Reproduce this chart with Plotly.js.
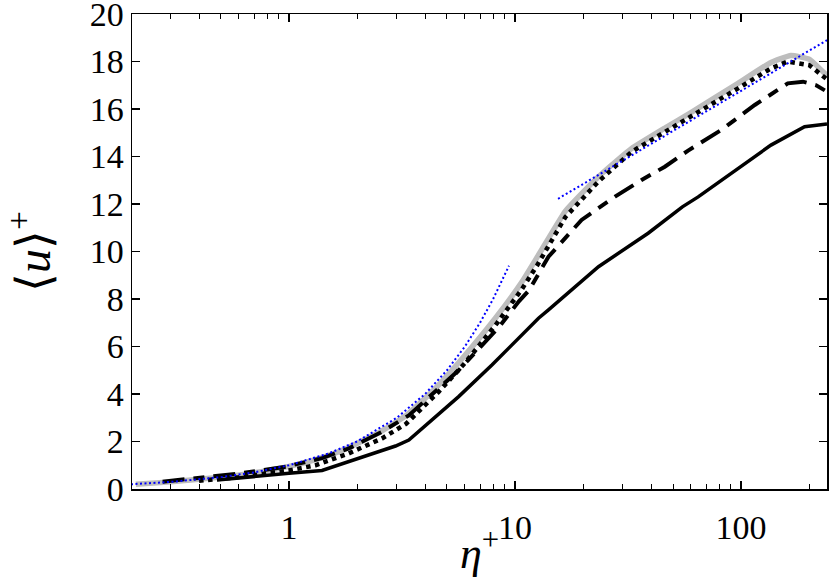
<!DOCTYPE html>
<html>
<head>
<meta charset="utf-8">
<script src="https://cdn.plot.ly/plotly-3.0.1.min.js"></script>
<style>
  html, body { margin: 0; padding: 0; background: white; }
  #chart { width: 830px; height: 578px; }
</style>
</head>
<body>
<div id="chart"></div>
<script>
// Mean velocity profiles <u>+ vs eta+ (log x), four cases plus two reference laws.

const grayX = [0.21, 0.3, 0.5, 0.7, 1, 1.4, 1.84, 2.58, 3.3, 4.37, 5.93, 8.2, 10.7, 12.7, 16.7, 20, 23.4, 28, 32.8, 46, 60, 97, 135, 166, 200, 240];
const grayY = [0.2, 0.3, 0.5, 0.68, 0.95, 1.32, 1.75, 2.45, 3.1, 4.17, 5.57, 7.2, 8.7, 9.85, 11.7, 12.5, 13.15, 13.8, 14.34, 15.2, 15.85, 17.08, 17.95, 18.25, 18.1, 17.4];

const dotX = [0.4, 0.6, 1, 1.31, 1.84, 2.58, 3.3, 4.6, 6.0, 8.2, 10.7, 12.5, 16.7, 23.4, 32.8, 46, 60, 97, 135, 161, 200, 240];
const dotY = [0.35, 0.5, 0.78, 1.0, 1.5, 2.13, 2.75, 4.1, 5.3, 6.9, 8.4, 9.4, 11.45, 12.95, 14.2, 15.05, 15.7, 16.87, 17.7, 18.0, 17.85, 17.25];

const dashX = [0.276, 0.4, 0.58, 0.97, 1.4, 1.84, 2.58, 3.39, 5.63, 8.46, 10.4, 11.5, 14.06, 19.7, 27.7, 36.3, 46, 58.3, 81.9, 115, 161, 188, 215, 240];
const dashY = [0.31, 0.45, 0.63, 0.94, 1.3, 1.71, 2.41, 3.1, 5.0, 6.8, 7.9, 8.35, 9.78, 11.33, 12.31, 13.01, 13.57, 14.25, 15.12, 16.17, 17.08, 17.15, 17.0, 16.73];

const solidX = [0.48, 0.67, 1, 1.4, 2.26, 2.96, 3.39, 4.3, 5.63, 7.9, 11.1, 12.7, 14.06, 23.4, 38.8, 55, 64.6, 88, 135.6, 191, 240];
const solidY = [0.38, 0.52, 0.66, 0.78, 1.43, 1.81, 2.06, 2.9, 3.89, 5.22, 6.6, 7.19, 7.54, 9.36, 10.77, 11.88, 12.3, 13.2, 14.48, 15.25, 15.37];

// u+ = y+ (viscous sublayer) and the log law, both
const linX = [0.2, 0.3, 0.5, 0.7, 1, 1.5, 2, 3, 4, 5, 6, 7, 8, 9.4];
const linY = [0.2, 0.3, 0.5, 0.7, 1, 1.5, 2, 3, 4, 5, 6, 7, 8, 9.4];
const logLawX = [15.5, 240];
const logLawY = [12.22, 18.9];

const traces = [
  { x: grayX, y: grayY, mode: "lines", line: { color: "#bdbdbd", width: 5.5, shape: "spline", smoothing: 0.4 } },
  { x: solidX, y: solidY, mode: "lines", line: { color: "black", width: 3.5 } },
  { x: dashX, y: dashY, mode: "lines", line: { color: "black", width: 4, dash: "22px,9px,11px,9px" } },
  { x: dotX, y: dotY, mode: "lines", line: { color: "black", width: 4.5, dash: "4.5px,4.5px" } },
  { x: linX, y: linY, mode: "lines", line: { color: "#0000ff", width: 2, dash: "2px,2.5px" } },
  { x: logLawX, y: logLawY, mode: "lines", line: { color: "#0000ff", width: 2, dash: "2px,2.5px" } },
];

const serif = "Times New Roman, Liberation Serif, Times, serif";

const layout = {
  width: 830,
  height: 578,
  showlegend: false,
  margin: { t: 14, r: 3, b: 89, l: 132 },
  plot_bgcolor: "white",
  paper_bgcolor: "white",
  font: { family: serif, size: 34, color: "black" },
  xaxis: {
    type: "log",
    range: [Math.log10(0.202), Math.log10(240)],
    tickvals: [1, 10, 100],
    ticktext: ["1", "10", "100"],
    ticks: "inside",
    ticklen: 8,
    tickwidth: 1.2,
    tickcolor: "black",
    minor: { ticks: "inside", ticklen: 5, tickwidth: 1, tickcolor: "black", dtick: "D1" },
    showline: true,
    linecolor: "black",
    linewidth: 1.5,
    mirror: "ticks",
    showgrid: false,
    zeroline: false,
    automargin: false,
    ticklabeloverflow: "allow",
    ticklabelstandoff: 8,
    tickfont: { family: serif, size: 34, color: "black" },
    title: { text: "<i>η</i><sup>+</sup>", font: { family: serif, size: 44, color: "black" }, standoff: 8 },
  },
  yaxis: {
    range: [0, 20],
    dtick: 2,
    ticks: "inside",
    ticklen: 8,
    tickwidth: 1.2,
    tickcolor: "black",
    showline: true,
    linecolor: "black",
    linewidth: 1.5,
    mirror: "ticks",
    showgrid: false,
    zeroline: false,
    automargin: false,
    ticklabeloverflow: "allow",
    tickfont: { family: serif, size: 34, color: "black" },
    title: { text: "⟨<i>u</i>⟩<sup>+</sup>", font: { family: serif, size: 48, color: "black" }, standoff: 40 },
  },
};

Plotly.newPlot("chart", traces, layout, { displayModeBar: false, staticPlot: true });
</script>
</body>
</html>
